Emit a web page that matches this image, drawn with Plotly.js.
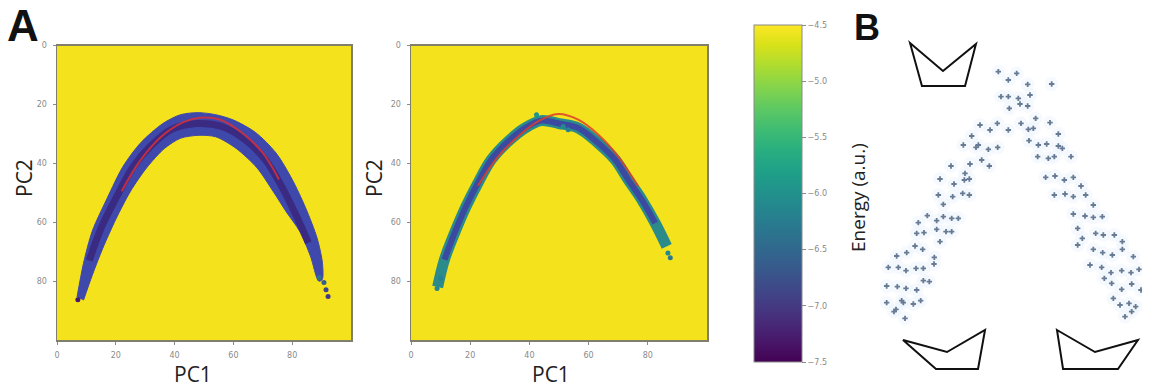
<!DOCTYPE html>
<html>
<head>
<meta charset="utf-8">
<script src="https://cdn.plot.ly/plotly-3.0.1.min.js"></script>
<style>html,body{margin:0;padding:0;background:#fff;}#chart{width:1149px;height:387px;}</style>
</head>
<body>
<div id="chart"></div>
<script>
// ---------- Data ----------
// Panel A, left map: centre of the low-energy band (PC1, PC2)
const bandPC1_left = [8, 11, 15, 20.5, 26, 32, 39, 47.5, 56, 64, 71, 76.5, 81, 85.5, 89];
const bandPC2_left = [85, 73, 62, 51, 41, 34, 28.5, 26.5, 27.5, 32, 39, 48, 57, 67, 77];
// outer and inner edges of the left band
const edgeOutPC1_left = [6.8, 9, 12, 17, 22.5, 28.5, 36, 42, 48, 54, 60, 67.5, 74.5, 80, 84.5, 88.5, 90.3, 90.2];
const edgeOutPC2_left = [85.5, 74, 63, 52, 41, 33, 26.5, 23.5, 22.8, 23.5, 25.3, 29.5, 36.5, 45.5, 55, 65.5, 74, 79.5];
const edgeInPC1_left  = [89, 86.2, 82.5, 78, 73.5, 68, 61, 54, 48, 42, 36.5, 30.5, 25, 20, 15.5, 12, 9];
const edgeInPC2_left  = [80, 71.5, 63, 56.5, 49.5, 41.5, 35, 31, 30.5, 31.5, 35, 41.5, 49.5, 59, 69, 78, 86.5];
// scattered samples at the ends of the left band
const dotsPC1_left = [7.1, 89.2, 90.8, 91.5, 92.2];
const dotsPC2_left = [86.3, 78.8, 80.5, 82.9, 85.2];
const dotsE_left   = [-7.3, -6.4, -6.6, -6.9, -7.0];
// fitted path (red curve), left map
const pathPC1_left = [22, 28, 36, 43, 48.5, 55.5, 63, 70, 75.5];
const pathPC2_left = [49.5, 39.5, 30.5, 26, 24.5, 25.2, 29.7, 36.5, 45.5];

// Panel A, right map
const bandPC1_right = [9, 11.3, 14.7, 18.6, 22.6, 27.1, 32.8, 38.4, 44, 50, 56.5, 63.3, 69, 73.4, 78, 82.5, 86.4];
const bandPC2_right = [82, 72.7, 63.7, 54.6, 46.7, 38.8, 32.6, 28.1, 25.5, 26.5, 28, 33.2, 38.8, 45.6, 52.4, 60.3, 68.2];
const dotsPC1_right = [8.8, 10, 42.4, 51.4, 53.1, 87.6, 86.8];
const dotsPC2_right = [82.5, 79, 23.5, 27.5, 28.6, 72.1, 70.5];
const dotsE_right   = [-6.1, -6.2, -6.0, -6.1, -6.2, -6.3, -6.1];
const pathPC1_right = [22.6, 29.4, 36.2, 42.9, 49.7, 56.5, 63.3, 70, 76.8];
const pathPC2_right = [47.6, 37.7, 30.9, 25.8, 23.3, 25.2, 30.3, 37.7, 47.9];

// Colour bar ticks (energy)
const energyTicks = [-4.5, -5.0, -5.5, -6.0, -6.5, -7.0, -7.5];

// Panel B: sampled conformations (reaction coordinate, energy a.u.)
const confX = [47.5,50.5,48.3,50.5,50.8,42,45,47.2,50.5,39.5,37,40.8,41.5,44.5,47.3,33.3,39,42.5,44.8,37.5,37.3,38.8,30,34.2,29.5,33.8,36.8,38.8,31,26.2,23.5,29,31,33.5,35.5,23,25.2,29,31.8,33.5,30,22.5,24.8,20,17,28.3,28.2,14.5,17.5,19.8,22.8,25,25,26.8,14,17.2,19.8,23,14,18.5,19,22,24.2,16.8,16.2,19.5,
  53,56.3,63.5,53.5,57,54,56.3,58.7,63,54.3,56.5,58,65.5,56.7,59.5,62,65.5,66.7,59.3,62.5,64.3,69.3,61.7,64.5,67.3,70,72.3,64.3,67.5,70,73.7,76,70,73.5,76,78.7,71.3,72.7,76.7,79,82.3,84.7,71.3,76,78.8,81.7,84.7,88,75,78.5,81.3,84.5,87.3,89.7,79.3,81.5,84.5,87.5,90.3,82,84,86.7,88.7,85.5,87.5];
const confE = [78.5,76,71,71,67.5,62.5,61,63,61,59.2,56.5,55.8,56.5,55.2,55.8,50.2,50.8,52,50.2,48,46,46.3,46.3,44.8,41.5,41,42,41.5,38.7,35.3,33.2,33.8,35,34.5,34.5,30,30.2,31.2,30.5,30.5,27.5,26.2,25.2,24.2,23.2,22.8,20.8,19.8,19.8,18.8,19.5,19.5,15.8,15.5,14.2,14,13.5,13,9.2,9.8,9.2,8.8,9.8,7.2,6.5,4.5,
  78,74.7,74.8,70.5,71.5,68.8,68.2,64.5,63.2,63,61.2,61.5,59.8,57.8,56.5,56.8,56.2,55.5,53,52.5,53,53,46.8,47.2,46,46.8,44.2,41.5,41.8,41,41.5,38.5,35.8,35.2,34.8,35,31.5,28.5,30,29.5,29.5,27.5,26.5,25.2,24.2,23.5,25.2,23,20.5,19.8,18.2,18.8,18.2,19.2,16.5,15,13.2,14.8,13,10.5,8.5,9,8,5,6.5];

// ---------- Layout helpers (pixel -> paper) ----------
const W = 1149, H = 387;
const PX = p => p / W;
const PY = p => 1 - p / H;

const yellow = '#f4e21c';
const axisCommon = {
  showline: true, mirror: true, linecolor: '#80806a', linewidth: 1.5,
  ticks: 'outside', ticklen: 3, tickcolor: '#8a8a8a', tickwidth: 1,
  tickfont: {size: 8, color: '#8a8a8a', family: 'DejaVu Sans'},
  showgrid: false, zeroline: false, fixedrange: true,
  tickvals: [0, 20, 40, 60, 80], ticklabelstandoff: 4
};

const mid = (arr, a, b) => arr.slice(a, b);

const traces = [
  // ---- left map ----
  {x: edgeOutPC1_left.concat(edgeInPC1_left), y: edgeOutPC2_left.concat(edgeInPC2_left),
   xaxis: 'x', yaxis: 'y', mode: 'lines', fill: 'toself', fillcolor: '#3f48ab',
   line: {color: '#3f48ab', width: 1, shape: 'spline', smoothing: 0.8}, hoverinfo: 'skip', showlegend: false},
  {x: mid(bandPC1_left, 1, 14), y: mid(bandPC2_left, 1, 14), xaxis: 'x', yaxis: 'y', mode: 'lines',
   line: {color: 'rgba(58,35,120,0.8)', width: 7, shape: 'spline'}, hoverinfo: 'skip', showlegend: false},
  {x: pathPC1_left, y: pathPC2_left, xaxis: 'x', yaxis: 'y', mode: 'lines',
   line: {color: 'rgba(214,48,58,0.85)', width: 2, shape: 'spline'}, hoverinfo: 'skip', showlegend: false},
  {x: dotsPC1_left, y: dotsPC2_left, xaxis: 'x', yaxis: 'y', mode: 'markers',
   marker: {size: 5, color: dotsE_left, colorscale: 'Viridis', cmin: -7.5, cmax: -4.5,
     showscale: true,
     colorbar: {x: PX(754), xanchor: 'left', xref: 'paper', xpad: 0,
       y: PY(362), yanchor: 'bottom', yref: 'paper', ypad: 0,
       len: 337 / H, lenmode: 'fraction', thickness: 48, thicknessmode: 'pixels',
       outlinewidth: 1, outlinecolor: '#8a8a8a',
       tickvals: energyTicks, tickformat: '.1f', ticks: 'outside', ticklen: 4,
       tickcolor: '#8a8a8a', tickfont: {size: 8, color: '#8a8a8a', family: 'DejaVu Sans'}}},
   hoverinfo: 'skip', showlegend: false},
  // ---- right map ----
  {x: bandPC1_right, y: bandPC2_right, xaxis: 'x2', yaxis: 'y2', mode: 'lines',
   line: {color: '#2a8b8a', width: 11, shape: 'spline'}, hoverinfo: 'skip', showlegend: false},
  {x: mid(bandPC1_right, 1, 16), y: mid(bandPC2_right, 1, 16), xaxis: 'x2', yaxis: 'y2', mode: 'lines',
   line: {color: '#3b4aa0', width: 6, shape: 'spline'}, hoverinfo: 'skip', showlegend: false},
  {x: pathPC1_right, y: pathPC2_right, xaxis: 'x2', yaxis: 'y2', mode: 'lines',
   line: {color: 'rgba(220,60,45,0.85)', width: 2, shape: 'spline'}, hoverinfo: 'skip', showlegend: false},
  {x: dotsPC1_right, y: dotsPC2_right, xaxis: 'x2', yaxis: 'y2', mode: 'markers',
   marker: {size: 5, color: dotsE_right, colorscale: 'Viridis', cmin: -7.5, cmax: -4.5, showscale: false},
   hoverinfo: 'skip', showlegend: false},
  // ---- panel B ----
  {x: confX, y: confE, xaxis: 'x3', yaxis: 'y3', mode: 'markers',
   marker: {size: 14, color: 'rgba(236,245,252,0.45)', line: {width: 0}}, hoverinfo: 'skip', showlegend: false},
  {x: confX, y: confE, xaxis: 'x3', yaxis: 'y3', mode: 'markers',
   marker: {size: 4.5, symbol: 'cross', color: '#677b95', line: {width: 0}}, hoverinfo: 'skip', showlegend: false}
];

const poly = pts => 'M' + pts.map(p => PX(p[0]).toFixed(4) + ',' + PY(p[1]).toFixed(4)).join(' L') + ' Z';
const shapeStyle = {type: 'path', xref: 'paper', yref: 'paper', line: {color: '#111', width: 2}, fillcolor: 'rgba(0,0,0,0)'};

const layout = {
  width: W, height: H,
  margin: {l: 0, r: 0, t: 0, b: 0},
  paper_bgcolor: '#ffffff', plot_bgcolor: 'rgba(0,0,0,0)',
  showlegend: false,
  xaxis: Object.assign({}, axisCommon, {domain: [PX(57), PX(351)], range: [0, 100], anchor: 'y'}),
  yaxis: Object.assign({}, axisCommon, {domain: [PY(340), PY(45.5)], range: [100, 0], anchor: 'x'}),
  xaxis2: Object.assign({}, axisCommon, {domain: [PX(411), PX(707)], range: [0, 100], anchor: 'y2'}),
  yaxis2: Object.assign({}, axisCommon, {domain: [PY(340), PY(45.5)], range: [100, 0], anchor: 'x2'}),
  xaxis3: {domain: [PX(873), PX(1142)], range: [9.9, 90.6], visible: false, anchor: 'y3', fixedrange: true},
  yaxis3: {domain: [PY(325), PY(62)], range: [2.5, 81.4], visible: false, anchor: 'x3', fixedrange: true},
  shapes: [
    {type: 'rect', xref: 'x domain', yref: 'y domain', x0: 0, x1: 1, y0: 0, y1: 1, layer: 'below', fillcolor: yellow, line: {width: 0}},
    {type: 'rect', xref: 'x2 domain', yref: 'y2 domain', x0: 0, x1: 1, y0: 0, y1: 1, layer: 'below', fillcolor: yellow, line: {width: 0}},
    Object.assign({path: poly([[910,43],[943,71],[976,44],[965,86],[922,86]])}, shapeStyle),
    Object.assign({path: poly([[903,340],[947,352],[985,330],[978,369],[936,369]])}, shapeStyle),
    Object.assign({path: poly([[1057,330],[1095,352],[1138,340],[1118,369],[1063,369]])}, shapeStyle)
  ],
  annotations: [
    {text: '<b>A</b>', x: PX(22.5), y: 1, xref: 'paper', yref: 'paper', xanchor: 'center', yanchor: 'top', showarrow: false, borderpad: 0,
     font: {size: 44, family: 'Liberation Sans', color: '#111'}},
    {text: '<b>B</b>', x: PX(867), y: PY(27), xref: 'paper', yref: 'paper', xanchor: 'center', yanchor: 'middle', showarrow: false,
     font: {size: 36, family: 'Liberation Sans', color: '#111'}},
    {text: 'PC1', x: PX(193), y: PY(374), xref: 'paper', yref: 'paper', xanchor: 'center', yanchor: 'middle', showarrow: false,
     font: {size: 21, family: 'Open Sans', color: '#222'}},
    {text: 'PC1', x: PX(551), y: PY(374), xref: 'paper', yref: 'paper', xanchor: 'center', yanchor: 'middle', showarrow: false,
     font: {size: 21, family: 'Open Sans', color: '#222'}},
    {text: 'PC2', x: PX(24), y: PY(178), xref: 'paper', yref: 'paper', xanchor: 'center', yanchor: 'middle', showarrow: false, textangle: -90,
     font: {size: 21, family: 'Open Sans', color: '#222'}},
    {text: 'PC2', x: PX(374), y: PY(178), xref: 'paper', yref: 'paper', xanchor: 'center', yanchor: 'middle', showarrow: false, textangle: -90,
     font: {size: 21, family: 'Open Sans', color: '#222'}},
    {text: 'Energy (a.u.)', x: PX(858), y: PY(198), xref: 'paper', yref: 'paper', xanchor: 'center', yanchor: 'middle', showarrow: false, textangle: -90,
     font: {size: 19, family: 'Open Sans', color: '#222'}}
  ]
};

Plotly.newPlot('chart', traces, layout, {displayModeBar: false, staticPlot: true});
</script>
</body>
</html>
